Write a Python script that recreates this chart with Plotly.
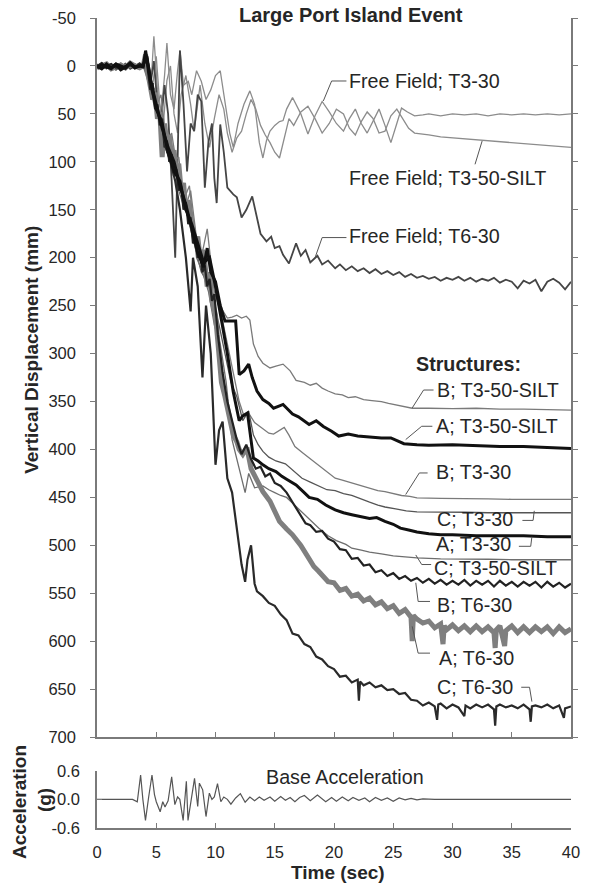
import plotly.graph_objects as go

FONT = "Liberation Sans, Arial, Helvetica, sans-serif"

# ---------------- data (time in s, settlement in mm) ----------------
PRE_T = [0, 0.4, 0.8, 1.2, 1.6, 2.0, 2.4, 2.8, 3.2, 3.6, 3.9]

FF_T3_30_T = PRE_T + [4.3, 4.6, 4.8, 5.1, 5.4, 5.7, 5.9, 6.2, 6.5, 6.8, 7.0, 7.3, 7.7, 8.0, 8.4, 8.8, 9.2, 9.6, 10.0, 10.4, 10.8,
                      11.2, 11.5, 11.9, 12.4, 12.9, 13.3, 13.7, 14.0, 14.3, 14.6, 15.0, 15.4, 15.7, 16.0, 16.5, 17.2, 17.8, 18.4,
                      19.0, 19.6, 20.2, 20.8, 21.3, 21.8, 22.3, 22.8, 23.3, 23.8, 24.3, 24.8, 25.3, 25.7, 26.2, 26.8, 27.5,
                      28, 29, 30, 31, 32, 33, 34, 35, 36, 37, 38, 39, 40]
FF_T3_30_Y = [0, 2, -2, 3, -1, 2, -3, 1, 3, -2, 1, -5, 10, -31, 25, 50, 10, -24, 30, 45, 5, -16, 20, 16, 30, 5, 16, 35, 25, 10, 5, 40,
              70, 85, 60, 40, 26, 40, 80, 96, 78, 68, 62, 58, 57, 45, 33, 50, 71, 52, 37, 48, 60, 68, 55, 45, 60, 70, 58, 45, 62, 80,
              60, 44, 48, 52, 51, 50, 52, 50, 51, 50, 52, 50, 51, 50, 51, 50, 51, 50]

FF_T3_50_T = PRE_T + [4.4, 4.7, 5.0, 5.3, 5.6, 5.9, 6.2, 6.5, 6.8, 7.1, 7.5, 7.9, 8.2, 8.5, 8.7, 9.1, 9.5, 9.9, 10.3, 10.7, 11.0,
                      11.4, 11.8, 12.2, 12.6, 13.0, 13.4, 13.8, 14.2, 14.6, 15.0, 15.4, 15.8, 16.2, 16.6, 17.2, 17.8, 18.4, 19.0,
                      19.6, 20.2, 20.8, 21.3, 21.8, 22.3, 22.8, 23.3, 23.8, 24.3, 24.8, 25.3, 25.8, 26.3, 26.8, 27.5,
                      28, 29, 30, 31, 32, 33, 34, 35, 36, 37, 38, 39, 40]
FF_T3_50_Y = [0, -2, 3, 0, -3, 2, 1, -2, 2, 3, 0, 5, 20, -10, 40, 60, 15, 0, 50, 70, 30, 10, 40, 68, 35, 20, 60, 85, 55, 30, 45, 70,
              90, 75, 68, 50, 35, 45, 62, 72, 80, 90, 96, 75, 55, 62, 48, 42, 55, 70, 60, 45, 50, 65, 72, 58, 48, 55, 70, 68, 52, 45,
              55, 65, 70, 71, 72, 74, 75, 76, 77, 78, 79, 80, 81, 82, 83, 84, 85]

FF_T6_30_T = PRE_T + [4.2, 4.5, 4.8, 5.1, 5.4, 5.7, 6.0, 6.3, 6.6, 6.8, 7.0, 7.3, 7.6, 7.9, 8.2, 8.5, 8.8, 9.1, 9.4, 9.7,
                      9.9, 10.1, 10.4, 10.7, 11.0, 11.5, 11.8, 12.2, 12.6, 13.1, 13.5, 13.8, 14.3, 14.7, 15.0, 15.4, 15.7, 16.2,
                      16.8, 17.2, 17.6, 18.0, 18.6, 19.0, 19.5, 20.1, 20.5, 21.0, 21.5, 22.0,
                      22.5, 23.0, 23.5, 24.0, 24.5, 25.0, 25.5, 26.0, 26.5, 27.0, 27.5, 28.0, 28.5, 29.0, 29.5, 30.0, 30.5, 31.0,
                      31.5, 32.0, 32.5, 33.0, 33.5, 34.0, 34.5, 35.0, 35.5, 36.0, 36.5, 37.0, 37.5, 38.0, 38.5, 39.0, 39.5, 40.0]
FF_T6_30_Y = [1, -3, 2, -1, 4, 0, -2, 3, 0, -3, 0, -8, 20, -5, 40, 60, 20, 50, 120, 200, 100, -16, 40, 110, 60, 68, 30, 37, 127, 80, 60,
              117, 143, 61, 90, 127, 134, 137, 158, 150, 136, 160, 175, 183, 178, 190, 188, 197, 206, 185, 198, 192, 205, 198, 207,
              203, 211, 207, 213, 209, 214,
              211, 216, 212, 217, 214, 218, 215, 220, 217, 221, 219, 222, 220, 224, 221, 223, 220, 224, 221, 225, 222, 224, 221,
              226, 223, 225, 232, 224, 227, 223, 235, 225, 222, 226, 233, 225]

B_T3_50_T = PRE_T + [4.3, 4.8, 5.3, 5.8, 6.3, 6.8, 7.3, 7.8, 8.3, 8.8, 9.3, 9.8, 10.2, 10.6, 11.0, 11.4, 11.8, 12.2, 12.6, 12.9,
                     13.2, 13.6, 14.0, 14.6, 15.1, 15.7, 16.3, 16.8, 17.5, 18.0, 18.5, 19.0, 19.5, 20.1, 20.7, 21.2, 21.8, 22.5,
                     23.2, 24.0, 24.6, 25.3, 26.0, 26.6, 28, 30, 32, 34, 36, 38, 40]
B_T3_50_Y = [-2, 1, 3, -1, 2, -3, 0, 2, -1, 1, 0, 10, 30, 55, 80, 70, 110, 140, 125, 185, 200, 170, 225, 240, 255, 263, 262, 260,
             263, 261, 265, 290, 303, 310, 315, 313, 311, 318, 328, 330, 333, 331, 336, 339, 342, 343, 346, 345, 348, 349, 350,
             352, 354, 356, 357, 357, 357.5, 357, 358, 358, 358.5, 359]

A_T3_50_T = PRE_T + [4.1, 4.5, 5.0, 5.5, 6.0, 6.5, 7.0, 7.5, 8.0, 8.5, 9.0, 9.3, 9.6, 10.0, 10.4, 10.8, 11.3, 11.7, 12.0, 12.4,
                     12.8, 13.1, 13.5, 14.0, 14.5, 14.9, 15.3, 15.7, 16.1, 16.5, 17.0, 17.5, 17.9, 18.5, 19.1, 19.8, 20.4, 21.2,
                     22.0, 23.0, 24.0, 24.8, 25.9, 27, 28, 30, 32, 34, 36, 38, 40]
A_T3_50_Y = [0, 3, -2, 2, -1, 4, 1, -3, 2, 0, 1, -16, 15, 40, 65, 85, 100, 125, 145, 170, 195, 210, 190, 215, 225, 250, 266, 266, 266,
             322, 318, 311, 325, 339, 348, 352, 357, 355, 353, 358, 363, 366, 370, 374, 370, 376, 381, 386, 384, 386, 387,
             388, 388, 394, 395, 395.5, 395, 396, 397, 397, 398, 399]

B_T3_30_T = PRE_T + [4.4, 4.9, 5.4, 5.9, 6.4, 6.9, 7.4, 7.9, 8.4, 8.9, 9.4, 9.9, 10.5, 11.0, 11.5, 12.0, 12.4, 12.8, 13.3, 14.0,
                     14.5, 14.9, 15.4, 15.8, 16.2, 16.7, 17.4, 18.2, 19.0, 20.1, 20.7, 21.5, 22.3, 23.0, 23.7, 24.3, 25.0, 25.7,
                     26.4, 27, 29, 31, 33, 35, 37, 40]
B_T3_30_Y = [1, -2, 2, 0, -3, 3, -1, 1, -2, 2, 0, 20, 45, 30, 85, 100, 95, 150, 130, 180, 210, 195, 235, 260, 290, 320, 350, 365, 362,
             372, 378, 383, 384, 380, 377, 385, 397, 404, 412, 420, 430, 432, 435, 438, 440, 443, 444, 446, 448, 449, 450.5,
             451, 451, 451.5, 452, 452, 452]

C_T3_30_T = PRE_T + [4.3, 4.8, 5.3, 5.8, 6.3, 6.8, 7.3, 7.8, 8.3, 8.8, 9.3, 9.8, 10.3, 10.8, 11.3, 11.8, 12.3, 12.8, 13.2, 13.6,
                     14.0, 14.5, 15.1, 15.9, 16.6, 17.3, 18.0, 18.7, 19.4, 20.1, 20.8, 21.5, 22.3, 23.0, 23.7, 24.3, 25.2, 26.1,
                     27, 29, 31, 33, 35, 37, 40]
C_T3_30_Y = [-1, 2, 0, -2, 3, 1, -2, 0, 2, -1, 0, 5, 35, 60, 75, 95, 120, 140, 165, 190, 215, 225, 245, 270, 300, 330, 345, 370, 360,
             385, 395, 402, 408, 412, 415, 422, 430, 434, 438, 442, 443, 446, 448, 452, 455, 458, 460, 462, 464, 465,
             465, 465.5, 466, 466, 466, 466]

A_T3_30_T = PRE_T + [4.2, 4.6, 5.0, 5.5, 6.0, 6.5, 7.0, 7.5, 8.0, 8.5, 9.0, 9.5, 10.0, 10.5, 11.0, 11.5, 12.0, 12.3, 12.7, 13.2,
                     13.6, 14.0, 14.5, 15.1, 15.6, 16.0, 16.8, 17.4, 17.9, 18.6, 19.3, 20.1, 20.8, 21.5, 22.3, 23.0, 23.6, 24.3,
                     25.0, 25.6, 26.3, 27.0, 28, 29, 30, 32, 34, 36, 38, 40]
A_T3_30_Y = [2, -1, 1, 3, -2, 0, 2, -3, 1, 0, -1, -10, 20, 45, 60, 90, 110, 120, 150, 165, 185, 205, 200, 230, 265, 300, 340, 370,
             365, 362, 409, 412, 416, 420, 423, 428, 431, 437, 444, 450, 452, 458, 463, 466, 468, 470, 472, 471, 475, 478, 482,
             484, 486, 488, 489, 489, 490, 490, 490, 491, 491]

C_T3_50_T = PRE_T + [4.4, 4.9, 5.4, 5.9, 6.4, 6.9, 7.4, 7.9, 8.4, 8.9, 9.4, 9.9, 10.4, 10.9, 11.4, 12.0, 12.5, 12.8, 13.3, 14.0,
                     14.5, 15.0, 15.5, 16.0, 16.5, 17.0, 17.5, 18.0, 18.7, 19.5, 20.2, 21.0, 21.5, 22.3, 23.0, 24.0, 25.0, 26.0,
                     27, 29, 31, 33, 35, 37, 40]
C_T3_50_Y = [0, 1, -3, 2, 0, -1, 3, 0, -2, 1, 0, 15, 25, 70, 90, 85, 130, 150, 145, 200, 215, 235, 270, 290, 330, 390, 420, 445, 425,
             440, 438, 442, 445, 448, 450, 456, 462, 468, 474, 482, 490, 495, 499, 503, 505, 507, 509, 511, 512, 513,
             514, 514, 514.5, 515, 515, 515]

B_T6_30_T = PRE_T + [4.1, 4.3, 4.5, 4.7, 4.9, 5.1, 5.3, 5.5, 5.7, 5.9, 6.1, 6.3, 6.5, 6.7, 6.9, 7.1, 7.3, 7.5, 7.7, 7.9,
                     8.1, 8.3, 8.5, 8.7, 8.9, 9.1, 9.3, 9.5, 9.7, 9.9, 10.2, 10.6, 11.0, 11.4, 11.8, 12.2, 12.6, 13.0, 13.4, 13.8,
                     14.2, 14.6, 15.0, 15.5, 16.0, 16.5, 17.0, 17.6,
                     18.0, 18.5, 19.0, 19.5, 20.0, 20.5, 21.0, 21.5, 22.0, 22.5, 23.0, 23.5, 24.0, 24.5, 25.0, 25.5, 26.0, 26.5,
                     27.0, 27.5, 28.0, 28.5, 29.0, 29.5, 30.0, 30.5, 31.0, 31.5, 32.0, 32.5, 33.0, 33.5, 34.0, 34.5, 35.0, 35.5,
                     36.0, 36.5, 37.0, 37.5, 38.0, 38.5, 39.0, 39.5, 40.0]
B_T6_30_Y = [0, -3, 2, 1, -2, 3, 0, -1, 2, -2, 0,
             -14, 5, 25, 18, 45, 40, 62, 55, 85, 78, 100, 92, 115, 108, 130, 125, 150, 142, 165, 158,
             185, 178, 200, 195, 215, 208, 230, 222, 245, 238, 280, 320, 350, 370, 390, 405, 395, 410, 420, 418,
             428, 425, 435, 438, 445, 455, 465, 477,
             479, 486, 485, 493, 496, 504, 505, 514, 513, 521, 520, 528, 526, 532, 529, 535, 532, 537, 534, 539,
             535, 540, 536, 541, 537, 541, 536, 542, 537, 541, 537, 543, 537, 542, 538, 543, 538, 542, 538, 544,
             538, 543, 539, 544, 540]

A_T6_30_T = PRE_T + [4.1, 4.3, 4.5, 4.7, 4.9, 5.1, 5.3, 5.5, 5.7, 5.9, 6.1, 6.3, 6.5, 6.7, 6.9, 7.1, 7.3, 7.5, 7.7, 7.9,
                     8.1, 8.3, 8.5, 8.7, 8.9, 9.1, 9.3, 9.5, 9.7, 10.0, 10.3, 10.5, 10.8, 11.0, 11.3, 11.5, 11.8, 12.0, 12.3,
                     12.65, 13.0, 13.5, 14.0, 14.6, 15.0, 15.4, 16.0, 16.5, 17.2, 17.9, 18.3, 18.7,
                     19.0, 19.5, 20.0, 20.5, 21.0, 21.5, 22.0, 22.5, 23.0, 23.5, 24.0, 24.5, 25.0, 25.5, 26.0, 26.5, 26.6, 26.7,
                     27.0, 27.5, 28.0, 28.5, 29.0, 29.2, 29.3, 29.5, 30.0, 30.5, 31.0, 31.5, 32.0, 32.5, 33.0, 33.5, 33.6, 33.7,
                     34.0, 34.4, 34.5, 35.0, 35.5, 36.0, 36.5, 37.0, 37.5, 38.0, 38.5, 39.0, 39.5, 40.0]
A_T6_30_Y = [2, 0, -2, 3, 1, -1, 2, -3, 0, 2, 0,
             -12, 8, 20, 35, 28, 55, 48, 95, 60, 80, 72, 95, 88, 110, 102, 130, 122, 150, 140, 160,
             172, 185, 178, 200, 192, 205, 230, 215, 245, 260, 300, 330, 345, 355, 375, 385, 392, 400, 405,
             398, 420, 433, 444, 454, 466, 475, 483, 489, 500, 515, 522, 527,
             531, 538, 539, 547, 545, 553, 551, 558, 555, 562, 559, 566, 563, 571, 567, 575, 600, 573,
             577, 581, 579, 586, 582, 603, 584, 588, 583, 589, 584, 590, 584, 590, 585, 591, 607, 588,
             584, 605, 589, 584, 591, 585, 591, 585, 590, 585, 592, 585, 591, 587]

C_T6_30_T = PRE_T + [4.2, 4.6, 5.0, 5.4, 5.8, 6.2, 6.6, 7.0, 7.5, 7.9, 8.1, 8.5, 8.9, 9.2, 9.6, 10.0, 10.3, 10.6, 11.0, 11.4,
                     11.8, 12.2, 12.5, 12.7, 13.0, 13.3,
                     13.5, 14.0, 14.5, 15.0, 15.5, 16.0, 16.5, 17.0, 17.5, 18.0, 18.5, 19.0, 19.5, 20.0, 20.5, 21.0, 21.5, 22.0,
                     22.1, 22.2, 22.5, 23.0, 23.5, 24.0, 24.5, 25.0, 25.5, 26.0, 26.5, 27.0, 27.5, 28.0, 28.5, 28.7, 28.8, 29.0,
                     29.5, 30.0, 30.5, 31.0, 31.1, 31.5, 32.0, 32.5, 33.0, 33.5, 33.6, 33.7, 34.0, 34.5, 35.0, 35.5, 36.0, 36.5,
                     36.6, 36.7, 37.0, 37.5, 38.0, 38.5, 39.0, 39.4, 39.5, 40.0]
C_T6_30_Y = [-1, 3, 0, -2, 2, 0, 3, -1, 1, -2, 0, -10, 25, 45, 55, 85, 100, 120, 150, 200, 256, 200, 230, 325, 250, 300, 416, 380,
             371, 430, 445, 480, 520, 538, 515, 500, 540,
             548, 553, 560, 563, 572, 578, 592, 594, 603, 606, 616, 619, 626, 629, 637, 636, 643, 640,
             662, 642, 646, 643, 648, 646, 651, 650, 655, 654, 661, 662, 667, 664, 668, 682, 666, 665,
             670, 666, 669, 678, 667, 670, 666, 669, 666, 671, 688, 668, 666, 669, 667, 670, 666, 671,
             684, 668, 667, 669, 666, 670, 667, 680, 670, 668]

ACC_T = [0, 1, 2, 3.0, 3.4, 3.68, 3.87, 4.09, 4.36, 4.64, 4.85, 5.0, 5.33, 5.55, 5.74, 6.0, 6.3, 6.57, 6.8, 6.99, 7.27, 7.54,
         7.68, 7.95, 8.23, 8.5, 8.64, 8.92, 9.2, 9.48, 9.7, 9.9, 10.17, 10.45, 10.7, 11.0, 11.3, 11.7, 12.1, 12.5, 12.9, 13.3,
         13.7, 14.1, 14.6, 15.0, 15.5, 15.9, 16.3, 16.7, 17.1, 17.5, 18.0, 18.6, 19.0, 19.3, 19.8, 20.2, 20.7, 21.2, 21.6,
         22.1, 22.6, 23.0, 23.5, 24.0, 24.5, 25.0, 25.5, 26.0, 26.5, 27.0, 27.5, 28.0, 28.5, 30, 35, 40]
ACC_G = [0, 0, 0, 0, -0.05, 0.51, 0.0, -0.44, 0.05, 0.51, 0.1, -0.05, -0.26, -0.05, -0.16, -0.03, 0.47, -0.11, 0.05, 0.0, -0.44,
         0.38, -0.44, 0.0, 0.44, -0.15, 0.34, 0.2, -0.36, 0.13, 0.0, 0.05, 0.33, -0.05, 0.05, 0.0, -0.1, 0.03, 0.12, -0.06,
         0.05, -0.03, 0.05, -0.02, 0.05, -0.04, 0.06, -0.02, 0.04, -0.05, 0.04, 0.08, -0.03, 0.09, 0.0, -0.05, 0.04, -0.04,
         0.05, -0.03, 0.04, -0.02, 0.03, -0.05, 0.04, -0.02, 0.03, -0.04, 0.03, -0.01, 0.02, -0.01, 0.01, 0.0, 0.0, 0.0, 0.0, 0.0]

DISP_TICKS = [-50, 0, 50, 100, 150, 200, 250, 300, 350, 400, 450, 500, 550, 600, 650, 700]
DISP_TICKTEXT = ["-50", "0", "50", "100", "150", "200", "250", "300", "350", "400", "450", "500", "550", "600", "650", "700"]
TIME_TICKS = [0, 5, 10, 15, 20, 25, 30, 35, 40]
ACC_TICKS = [-0.6, 0.0, 0.6]
ACC_TICKTEXT = ["-0.6", "0.0", "0.6"]

# label text, x (s), y (mm) ; leader path points
LABELS = [
    ("Free Field; T3-30", 21.1, 15.7, [(21.05, 15.7), (19.8, 15.7), (19.1, 36.5)]),
    ("Free Field; T3-50-SILT", 21.1, 117, [(31.9, 102.6), (32.5, 78.3)]),
    ("Free Field; T6-30", 21.1, 177.5, [(21.05, 179), (19.0, 179), (18.4, 200)]),
    ("B; T3-50-SILT", 28.5, 338, [(28.4, 338), (27.56, 338), (26.6, 356.7)]),
    ("A; T3-50-SILT", 28.4, 376, [(28.3, 375.8), (27.4, 375.8), (26.05, 389.7)]),
    ("B; T3-30", 28.4, 423, [(27.9, 424.5), (27.2, 424.5), (26.05, 447)]),
    ("C; T3-30", 28.5, 473, [(35.9, 474), (36.8, 474), (36.9, 464)]),
    ("A; T3-30", 28.4, 499, [(35.6, 501), (36.6, 501), (36.7, 491)]),
    ("C; T3-50-SILT", 28.25, 524, [(28.2, 520), (27.4, 520), (26.9, 510)]),
    ("B; T6-30", 28.5, 562, [(28.1, 558.5), (27.1, 558.5), (26.9, 539)]),
    ("A; T6-30", 28.7, 618, [(28.1, 612.4), (27.1, 612.4), (26.6, 584.5)]),
    ("C; T6-30", 28.5, 648, [(35.8, 648), (36.5, 648), (36.7, 663)]),
]

SERIES = [
    ("FF T3-30", FF_T3_30_T, FF_T3_30_Y, "#8c8c8c", 1.3),
    ("FF T3-50-SILT", FF_T3_50_T, FF_T3_50_Y, "#8c8c8c", 1.3),
    ("FF T6-30", FF_T6_30_T, FF_T6_30_Y, "#454545", 1.8),
    ("B T3-50-SILT", B_T3_50_T, B_T3_50_Y, "#7a7a7a", 1.3),
    ("B T3-30", B_T3_30_T, B_T3_30_Y, "#7a7a7a", 1.3),
    ("C T3-30", C_T3_30_T, C_T3_30_Y, "#555555", 1.3),
    ("C T3-50-SILT", C_T3_50_T, C_T3_50_Y, "#6e6e6e", 1.3),
    ("A T6-30", A_T6_30_T, A_T6_30_Y, "#7f7f7f", 5.0),
    ("B T6-30", B_T6_30_T, B_T6_30_Y, "#222222", 2.2),
    ("C T6-30", C_T6_30_T, C_T6_30_Y, "#2a2a2a", 2.2),
    ("A T3-50-SILT", A_T3_50_T, A_T3_50_Y, "#111111", 3.0),
    ("A T3-30", A_T3_30_T, A_T3_30_Y, "#111111", 3.0),
]

for name, t, y, c, w in SERIES:
    assert len(t) == len(y), (name, len(t), len(y))
assert len(ACC_T) == len(ACC_G)

fig = go.Figure()
for name, t, y, c, w in SERIES:
    fig.add_trace(go.Scatter(x=t, y=y, mode="lines", name=name, line=dict(color=c, width=w),
                             xaxis="x", yaxis="y", hoverinfo="skip", showlegend=False))
fig.add_trace(go.Scatter(x=ACC_T, y=ACC_G, mode="lines", name="Base Acceleration",
                         line=dict(color="#555555", width=1.2), xaxis="x2", yaxis="y2",
                         hoverinfo="skip", showlegend=False))

AX = "#7a7a7a"
TXT = "#262626"
LBL = 19.7
annotations = []
shapes = []
for text, lx, ly, pts in LABELS:
    annotations.append(dict(text=text, x=lx, y=ly, xref="x", yref="y", xanchor="left", yanchor="middle",
                            showarrow=False, font=dict(family=FONT, size=LBL, color=TXT)))
    path = "M " + " L ".join(f"{px},{py}" for px, py in pts)
    shapes.append(dict(type="path", path=path, xref="x", yref="y", line=dict(color="#555555", width=1)))

annotations += [
    dict(text="<b>Structures:</b>", x=26.72, y=311, xref="x", yref="y", xanchor="left", yanchor="middle",
         showarrow=False, font=dict(family=FONT, size=LBL, color=TXT)),
    dict(text="Base Acceleration", x=14.1, y=0.47, xref="x2", yref="y2", xanchor="left", yanchor="middle",
         showarrow=False, font=dict(family=FONT, size=LBL, color=TXT)),
    dict(text="<b>Large Port Island Event</b>", x=0.536, y=1.0037, xref="paper", yref="paper",
         xanchor="center", yanchor="middle", showarrow=False, font=dict(family=FONT, size=20, color=TXT)),
    dict(text="<b>Vertical Displacement (mm)</b>", x=-0.1387, y=0.5906, xref="paper", yref="paper",
         xanchor="center", yanchor="middle", textangle=-90, showarrow=False,
         font=dict(family=FONT, size=19, color=TXT)),
    dict(text="<b>Acceleration</b>", x=-0.1625, y=0.0321, xref="paper", yref="paper",
         xanchor="center", yanchor="middle", textangle=-90, showarrow=False,
         font=dict(family=FONT, size=19, color=TXT)),
    dict(text="<b>(g)</b>", x=-0.1118, y=0.0345, xref="paper", yref="paper",
         xanchor="center", yanchor="middle", textangle=-90, showarrow=False,
         font=dict(family=FONT, size=19, color=TXT)),
    dict(text="<b>Time (sec)</b>", x=0.509, y=-0.0555, xref="paper", yref="paper",
         xanchor="center", yanchor="middle", showarrow=False, font=dict(family=FONT, size=19, color=TXT)),
]

tickfont = dict(family=FONT, size=16.5, color=TXT)
fig.update_layout(
    width=589, height=894, autosize=False,
    margin=dict(l=97, r=9, t=17, b=66, pad=0),
    paper_bgcolor="white", plot_bgcolor="white",
    showlegend=False,
    xaxis=dict(domain=[0, 1], anchor="y", range=[0, 40], tickvals=TIME_TICKS, showticklabels=False,
               ticks="inside", ticklen=5, tickcolor=AX, showline=True, linecolor=AX, linewidth=1.5,
               showgrid=False, zeroline=False),
    yaxis=dict(domain=[0.1122, 1], anchor="x", range=[700, -50], tickvals=DISP_TICKS, ticktext=DISP_TICKTEXT,
               ticks="outside", ticklen=5, tickcolor=AX, showline=True, linecolor=AX, linewidth=1.5, mirror="ticks",
               showgrid=False, zeroline=False, tickfont=tickfont, ticklabelstandoff=11),
    xaxis2=dict(domain=[0, 1], anchor="y2", range=[0, 40], tickvals=TIME_TICKS, ticks="inside", ticklen=5,
                tickcolor=AX, showline=True, linecolor=AX, linewidth=1.5, showgrid=False, zeroline=False,
                tickfont=tickfont, ticklabelstandoff=8),
    yaxis2=dict(domain=[0, 0.0707], anchor="x2", range=[-0.6, 0.6], tickvals=ACC_TICKS, ticktext=ACC_TICKTEXT,
                ticks="inside", ticklen=5, tickcolor=AX, showline=True, linecolor=AX, linewidth=1.5,
                showgrid=False, zeroline=False, tickfont=tickfont, ticklabelstandoff=12),
    annotations=annotations,
    shapes=shapes,
)

fig.write_html("out.html")
